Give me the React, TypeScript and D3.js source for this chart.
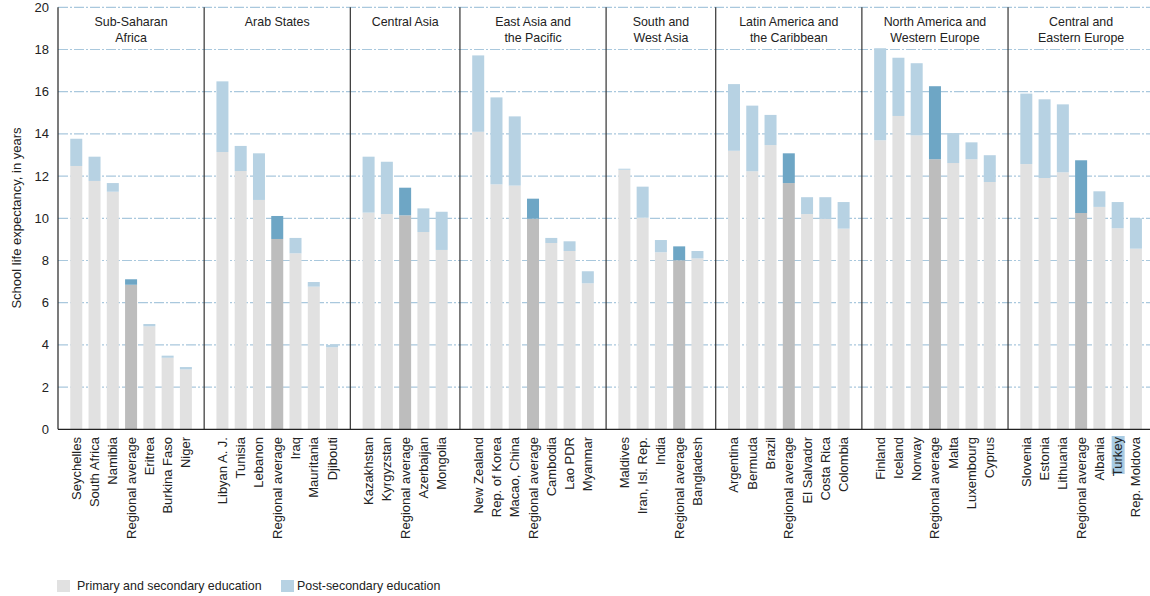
import React from "react";
import * as d3 from "d3";

const regions = [
  "Sub-Saharan|Africa",
  "Arab States",
  "Central Asia",
  "East Asia and|the Pacific",
  "South and|West Asia",
  "Latin America and|the Caribbean",
  "North America and|Western Europe",
  "Central and|Eastern Europe",
];

const countries = [
  ["Seychelles", "South Africa", "Namibia", "Regional average", "Eritrea", "Burkina Faso", "Niger"],
  ["Libyan A. J.", "Tunisia", "Lebanon", "Regional average", "Iraq", "Mauritania", "Djibouti"],
  ["Kazakhstan", "Kyrgyzstan", "Regional average", "Azerbaijan", "Mongolia"],
  ["New Zealand", "Rep. of Korea", "Macao, China", "Regional average", "Cambodia", "Lao PDR", "Myanmar"],
  ["Maldives", "Iran, Isl. Rep.", "India", "Regional average", "Bangladesh"],
  ["Argentina", "Bermuda", "Brazil", "Regional average", "El Salvador", "Costa Rica", "Colombia"],
  ["Finland", "Iceland", "Norway", "Regional average", "Malta", "Luxembourg", "Cyprus"],
  ["Slovenia", "Estonia", "Lithuania", "Regional average", "Albania", "Turkey", "Rep. Moldova"],
];

// Primary and secondary school life expectancy (years)
const primarySecondary = [
  [12.48, 11.77, 11.26, 6.85, 4.88, 3.39, 2.84],
  [13.14, 12.24, 10.87, 9.02, 8.34, 6.76, 3.89],
  [10.27, 10.2, 10.14, 9.35, 8.5],
  [14.1, 11.61, 11.55, 9.98, 8.83, 8.45, 6.92],
  [12.3, 10.03, 8.39, 8.01, 8.1],
  [13.2, 12.23, 13.47, 11.67, 10.2, 9.97, 9.51],
  [13.7, 14.85, 13.93, 12.8, 12.62, 12.8, 11.72],
  [12.57, 11.91, 12.18, 10.25, 10.54, 9.53, 8.56],
];

// Total school life expectancy (primary to post-secondary)
const totals = [
  [13.77, 12.92, 11.67, 7.11, 4.99, 3.49, 2.95],
  [16.49, 13.43, 13.08, 10.11, 9.07, 6.98, 4.0],
  [12.92, 12.68, 11.45, 10.47, 10.31],
  [17.72, 15.73, 14.83, 10.93, 9.07, 8.91, 7.49],
  [12.35, 11.5, 8.97, 8.67, 8.45],
  [16.36, 15.34, 14.9, 13.08, 11.0, 11.0, 10.77],
  [18.06, 17.61, 17.35, 16.26, 14.04, 13.6, 12.99],
  [15.91, 15.64, 15.4, 12.75, 11.28, 10.77, 10.0],
];

const yTicks = [0, 2, 4, 6, 8, 10, 12, 14, 16, 18, 20];
const highlighted = ["Turkey"];

const FONT = "'Liberation Sans Narrow', 'Arial Narrow', 'Liberation Sans', sans-serif";

export default function App() {
  const W = 1150;
  const H = 596;
  const left = 58;
  const slot = 18.27;
  const barW = 12;
  const y = d3.scaleLinear().domain([0, 20]).range([429.3, 7.3]);

  // slot positions
  const groupStarts: number[] = [];
  let acc = 0;
  countries.forEach((g) => {
    groupStarts.push(acc);
    acc += g.length + 1;
  });
  const x = d3.scaleLinear().domain([0, acc]).range([left, left + acc * slot]);

  const bars: any[] = [];
  countries.forEach((g, gi) => {
    g.forEach((name, i) => {
      bars.push({
        name,
        cx: x(groupStarts[gi] + 1 + i),
        p: primarySecondary[gi][i],
        t: totals[gi][i],
        avg: name === "Regional average",
      });
    });
  });

  const base = y(0);
  return (
    <svg width={W} height={H} style={{ position: "absolute", left: 0, top: 0 }} fontFamily={FONT}>
      <style>{`body{margin:0}`}</style>
      <rect width={W} height={H} fill="#fff" />
      {yTicks.map((t) => (
        <g key={t}>
          {t > 0 && (
            <line x1={left} x2={W} y1={y(t)} y2={y(t)} stroke="#a9c8dd" strokeWidth={1.2} strokeDasharray="10,2,2,2" />
          )}
          <text x={49} y={y(t)} dy="0.35em" textAnchor="end" fontSize={13} fill="#222">
            {t}
          </text>
        </g>
      ))}
      {bars.map((b, i) => (
        <g key={i}>
          <rect
            x={b.cx - barW / 2}
            y={y(b.p)}
            width={barW}
            height={base - y(b.p)}
            fill={b.avg ? "#bdbdbd" : "#e1e1e1"}
          />
          <rect
            x={b.cx - barW / 2}
            y={y(b.t)}
            width={barW}
            height={y(b.p) - y(b.t)}
            fill={b.avg ? "#6ea6c5" : "#b7d2e3"}
          />
        </g>
      ))}
      {groupStarts.map((gs, gi) => (
        <line key={gi} x1={x(gs)} x2={x(gs)} y1={y(20)} y2={base} stroke={gi === 0 ? "#222" : "#333"} strokeWidth={1.2} />
      ))}
      <line x1={left} x2={W} y1={base} y2={base} stroke="#222" strokeWidth={1.3} />
      {regions.map((r, gi) => {
        const cx = x(groupStarts[gi] + (countries[gi].length + 1) / 2);
        return (
          <text key={gi} x={cx} y={25.5} textAnchor="middle" fontSize={12.4} fill="#222">
            {r.split("|").map((line, li) => (
              <tspan key={li} x={cx} dy={li === 0 ? 0 : 16}>
                {line}
              </tspan>
            ))}
          </text>
        );
      })}
      {bars.map((b, i) => {
        const tx = b.cx + 4.5;
        const ty = 437;
        const isHl = highlighted.includes(b.name);
        return (
          <g key={"l" + i}>
            {isHl && <rect x={b.cx - 6} y={ty - 1} width={13} height={38} fill="#a8cbe3" />}
            <text
              x={tx}
              y={ty}
              transform={`rotate(-90 ${tx} ${ty})`}
              textAnchor="end"
              fontSize={13}
              fill="#222"
            >
              {b.name}
            </text>
          </g>
        );
      })}
      <text
        x={21}
        y={218}
        transform="rotate(-90 21 218)"
        textAnchor="middle"
        fontSize={13}
        fill="#222"
      >
        School life expectancy, in years
      </text>
      <rect x={57} y={580} width={13} height={12} fill="#e1e1e1" />
      <text x={77} y={590} fontSize={12.4} fill="#222">
        Primary and secondary education
      </text>
      <rect x={281} y={580} width={13} height={12} fill="#b7d2e3" />
      <text x={297} y={590} fontSize={12.4} fill="#222">
        Post-secondary education
      </text>
    </svg>
  );
}
